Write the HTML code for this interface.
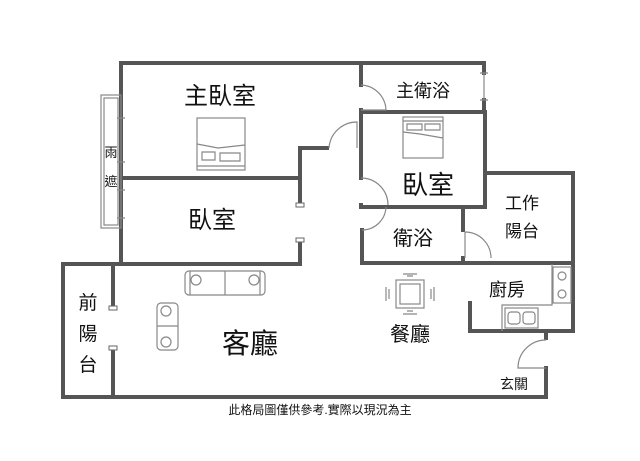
<!DOCTYPE html>
<html><head><meta charset="utf-8"><style>
html,body{margin:0;padding:0;background:#fff;}
svg{display:block}
text{font-family:"Liberation Sans","Noto Sans CJK TC",sans-serif;fill:#111;}
</style></head><body>
<svg width="640" height="461" viewBox="0 0 640 461" xmlns="http://www.w3.org/2000/svg">
<g fill="none" stroke="#555" stroke-width="4" stroke-linecap="square">
<path d="M121 63 H484 V73 M484 100 V112"/>
<path d="M121 63 V262"/>
<path d="M121 178 H300 V204 M300 240 V264"/>
<path d="M300 178 V148 H327"/>
<path d="M361 63 V85 M361 110 V178 M361 205 V207 M362 230 V263"/>
<path d="M361 112 H484"/>
<path d="M485 112 V207 H361"/>
<path d="M485 173 H573 V331 H470 V303"/>
<path d="M463 207 V230 M463 258 V263"/>
<path d="M362 263 H573"/>
<path d="M63 264 H300 M63 264 V397 H546 V368 M546 338 V331"/>
<path d="M113 264 V307 M113 348 V397"/>
</g>
<g fill="none" stroke="#888" stroke-width="1.2">
<rect x="101" y="95" width="20" height="133"/>
<rect x="104" y="98" width="14" height="127"/>
<path d="M357 148 V122 A28 28 0 0 0 329 148"/>
<path d="M361 85 A26 26 0 0 1 386 110 H361"/>
<path d="M361 178 A27 27 0 0 1 388 205"/>
<path d="M362 230 A24 24 0 0 0 386 207"/>
<path d="M465 258 V232 A26 26 0 0 1 491 258"/>
<path d="M546 340 A28 28 0 0 0 518 368 H546"/>
<path d="M484 73 V100 M480 73 H488 M480 100 H488"/>
<path d="M117 118 H125 M117 162 H125 M117 190 H125 M117 218 H125"/>
<rect x="197" y="118" width="48" height="52"/>
<path d="M197 144 L218 148 L245 145 M197 166 H245 M202 152 H215 V160 H202 Z M220 153 H240 V161 H220 Z"/>
<rect x="403" y="117" width="40" height="41"/>
<path d="M403 121 H443 M407 124 H422 V130 H407 Z M425 124 H440 V130 H425 Z M403 132 L420 134 L443 138"/>
<rect x="185" y="271" width="80" height="24" rx="4"/>
<path d="M225 271 V295 M190 271 V295 M260 271 V295"/>
<circle cx="196" cy="280" r="5"/><circle cx="254" cy="280" r="5"/>
<rect x="157" y="303" width="21" height="47" rx="4"/>
<path d="M157 326 H178"/>
<circle cx="166" cy="311" r="5"/><circle cx="166" cy="342" r="5"/>
<rect x="396" y="280" width="28" height="28"/><rect x="400" y="284" width="20" height="20"/>
<path d="M403 274 H417 M407 276 H413 M403 314 H417 M407 311 H413 M386 287 V301 M389 289 V299 M434 287 V301 M431 289 V299"/>
<path d="M502 331 V305 H552 V264"/>
<rect x="553" y="267" width="18" height="36"/>
<circle cx="562" cy="276" r="4"/><circle cx="562" cy="294" r="4"/>
<rect x="505" y="308" width="33" height="20"/>
<rect x="508" y="312" width="12" height="12" rx="3"/><rect x="523" y="312" width="12" height="12" rx="3"/>
</g>
<g fill="#fff" stroke="#666" stroke-width="1">
<rect x="296" y="203" width="8" height="4"/><rect x="296" y="238" width="8" height="4"/>
<rect x="109" y="306" width="8" height="4"/><rect x="109" y="346" width="8" height="4"/>
</g>
<text x="220" y="104" font-size="24" text-anchor="middle">主臥室</text>
<text x="212" y="228" font-size="24" text-anchor="middle">臥室</text>
<text x="423" y="97" font-size="18" text-anchor="middle">主衛浴</text>
<text x="428" y="194" font-size="26" text-anchor="middle">臥室</text>
<text x="413" y="245" font-size="20" text-anchor="middle">衛浴</text>
<text x="522" y="209" font-size="17" text-anchor="middle">工作</text>
<text x="522" y="237" font-size="17" text-anchor="middle">陽台</text>
<text x="507" y="296" font-size="18" text-anchor="middle">廚房</text>
<text x="410" y="341" font-size="20" text-anchor="middle">餐廳</text>
<text x="250" y="353" font-size="28" text-anchor="middle">客廳</text>
<text x="514" y="389" font-size="14" text-anchor="middle">玄關</text>
<text x="88" y="309" font-size="19" text-anchor="middle">前</text>
<text x="88" y="340" font-size="19" text-anchor="middle">陽</text>
<text x="88" y="371" font-size="19" text-anchor="middle">台</text>
<text x="111" y="157" font-size="13" text-anchor="middle">雨</text>
<text x="111" y="186" font-size="13" text-anchor="middle">遮</text>
<text x="320" y="414" font-size="12" text-anchor="middle">此格局圖僅供參考.實際以現況為主</text>
</svg>
</body></html>
